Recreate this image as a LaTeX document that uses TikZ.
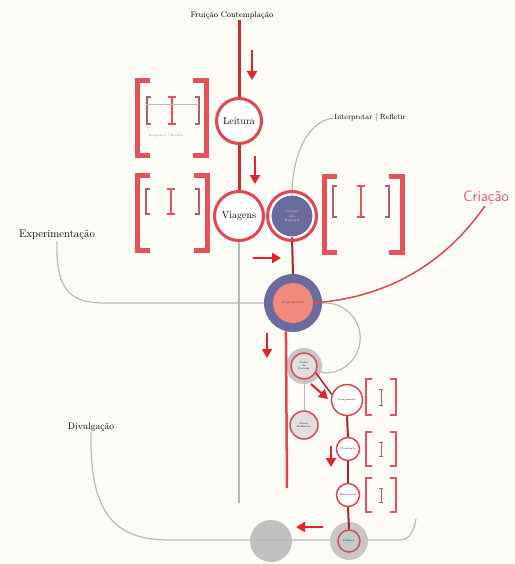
\documentclass[tikz,border=0pt]{standalone}
\usepackage{fontspec}
\usepackage{xcolor}
\usepackage{tikz}
\usetikzlibrary{arrows.meta,positioning,calc}

\definecolor{linered}{HTML}{D42A2F}
\definecolor{ringred}{HTML}{E2474F}
\definecolor{brkred}{HTML}{E6525A}
\definecolor{darkred}{HTML}{A82432}
\definecolor{arrred}{HTML}{E0262B}
\definecolor{bluec}{HTML}{6A6A9F}
\definecolor{salmon}{HTML}{EF8A7C}
\definecolor{lgray}{HTML}{B9B9B9}
\definecolor{dotgray}{HTML}{C0C0C0}
\definecolor{paper}{HTML}{FCFBF6}

\begin{document}
\begin{tikzpicture}[x=1pt, y=-1pt,
  stn/.style={circle, draw=ringred, line width=3pt, fill=white, inner sep=0pt,
    font=\fontsize{10}{11}\selectfont},
  mini/.style={circle, draw=ringred, line width=1.5pt, fill=white, inner sep=0pt,
    align=center, font=\fontsize{2.5}{3}\selectfont},
  lbl/.style={font=\fontsize{8}{9}\selectfont, inner sep=1pt},
  gline/.style={lgray, line width=1.2pt},
  rline/.style={linered, line width=3pt},
  fat/.style={arrred, line width=2.5pt, -{Triangle[width=10pt,length=9pt]}},
  brk/.style={brkred, line width=5pt},
  sbrk/.style={brkred, line width=2.5pt},
  ibrk/.style={brkred!60!bluec, line width=1.8pt},
]
\fill[paper] (0,0) rectangle (514,564);
\useasboundingbox (0,0) rectangle (514,564);

% Labels
\node[lbl] (fru) at (232,15) {Fruição Contemplação};
\node[lbl, font=\fontsize{7.5}{9}\selectfont] (interp) at (370,118) {Interpretar | Refletir};
\node[font=\sffamily\fontsize{15}{17}\selectfont, text=ringred!90, inner sep=1pt] (cria) at (486,198) {Criação};
\node[lbl, font=\fontsize{11}{12}\selectfont] (expt) at (57,235) {Experimentação};
\node[lbl, font=\fontsize{9.5}{11}\selectfont] (divu) at (91,427) {Divulgação};

% Brackets
\foreach \l/\r/\t/\b in {137/206/81/156, 137/207/175/250, 324/402/176/252}{
  \draw[brk] (\l+13,\t) -| (\l,\b) -- (\l+13,\b);
  \draw[brk] (\r-13,\t) -| (\r,\b) -- (\r-13,\b);
}
\foreach \l/\m/\r/\t/\b in {147/172/199/97/124, 146/171/199/189/214, 333/361/389/186/217}{
  \draw[ibrk] (\l+4,\t) -| (\l,\b) -- (\l+4,\b);
  \draw[ibrk] (\r-4,\t) -| (\r,\b) -- (\r-4,\b);
  \draw[ibrk, brkred] (\m-4,\t) -- (\m+4,\t) (\m,\t) -- (\m,\b) (\m-4,\b) -- (\m+4,\b);
}
\draw[lgray, line width=0.4pt] (146,104) -- (199,104);
\node[font=\fontsize{3}{3.5}\selectfont, text=gray] (imsub) at (166,136) {Imagética | Escrita};
\foreach \t/\b in {379/415, 432/466, 478/512}{
  \draw[sbrk] (372,\t) -| (366,\b) -- (372,\b);
  \draw[sbrk] (390,\t) -| (396,\b) -- (390,\b);
  \draw[ibrk, line width=1pt] (379,\t+10) -- (383,\t+10) (381,\t+10) -- (381,\b-10)
    (379,\b-10) -- (383,\b-10);
}

% Main column
\node[stn, minimum size=45pt] (leit) at (239,121) {Leitura};
\node[stn, minimum size=49pt] (viag) at (239,216) {Viagens};
\node[circle, fill=bluec, draw=white, line width=1pt, minimum size=42pt, inner sep=0pt,
  align=center, text=white!80!bluec, font=\fontsize{3.5}{4.5}\selectfont] (corpo) at (292,216)
  {Corpo\\em\\Rasura};
\node[circle, fill=bluec, minimum size=58pt, inner sep=0pt] (arq) at (293,303) {};
\node[circle, fill=salmon, minimum size=40pt, inner sep=0pt,
  font=\fontsize{3.5}{4}\selectfont, text=darkred] (arqin) at (arq) {Argumento};

% Lower column
\coordinate (psg) at (304,366);
\fill[lgray!80] (psg) circle[radius=18pt];
\node[mini, fill=gray!25, minimum size=26pt] (sg) at (psg) {Ponto\\de\\Partida};
\node[mini, fill=gray!25, minimum size=28pt] (gc) at (304,425) {Pausa\\Reflexiva};
\node[mini, minimum size=31pt] (lanc) at (347,400) {Lançamento};
\node[mini, minimum size=23pt] (ctwo) at (348,449) {Circulação};
\node[mini, minimum size=23pt] (cthree) at (348,495) {Exposição};
\node[circle, fill=dotgray, minimum size=42pt, inner sep=0pt] (gdot) at (271,541) {};

\coordinate (ftop) at (fru.south -| leit);
\coordinate (gend) at (239,503);
\coordinate (redend) at (287,488);
\coordinate (dend) at (416,519);

% Grey paths
\draw[gline] (viag.south) -- (gend);
\draw[gline] (expt.south) .. controls (55,295) and (75,303) .. (105,303) -- (arq.west);
\draw[gline] (corpo.north) .. controls (292,160) and (305,122) .. (interp.west);
\draw[gline] (arq.east) -- ++(3,0) arc[start angle=90, end angle=-90, radius=35pt] -- (sg.-20);
\draw[gline, line width=0.8pt] (sg.south) -- (gc.north);
\draw[gline] (divu.south) .. controls (89,520) and (120,540) .. (170,540) -- (400,540)
  .. controls (410,540) and (414,530) .. (dend);

% Bottom node
\coordinate (pbot) at (349,541);
\fill[lgray!80] (pbot) circle[radius=19pt];
\node[mini, fill=teal!25!gray!40, minimum size=22pt] (bot) at (pbot) {Público};

% Red paths
\draw[rline] (ftop) -- (leit.north);
\draw[rline] (leit.south) -- (viag.north);
\draw[darkred, line width=2pt] (corpo.south) -- (arq.north);
\draw[ringred, line width=1.5pt] (cria.262) .. controls (440,270) and (380,298) .. (arqin.east);
\draw[ringred, line width=2.5pt] (arq.256) -- (redend);
\draw[darkred, line width=1.5pt] (sg.-30) -- (lanc.160);
\draw[darkred, line width=2pt] (lanc.south) -- (ctwo.north);
\draw[darkred, line width=2pt] (ctwo.south) -- (cthree.north);
\draw[darkred, line width=2pt] (cthree.south) -- (bot.north);
\draw[ringred, line width=3pt] (corpo) circle[radius=24.5pt];

% Arrows
\draw[fat] (252,50) -- (252,80);
\draw[fat] (255,156) -- (255,184);
\draw[fat] (253,258) -- (281,258);
\draw[fat] (267,333) -- (267,358);
\draw[fat, line width=2pt] (311,384) -- (328,399);
\draw[fat] (331,446) -- (331,467);
\draw[fat] (323,527) -- (296,527);
\end{tikzpicture}
\end{document}
